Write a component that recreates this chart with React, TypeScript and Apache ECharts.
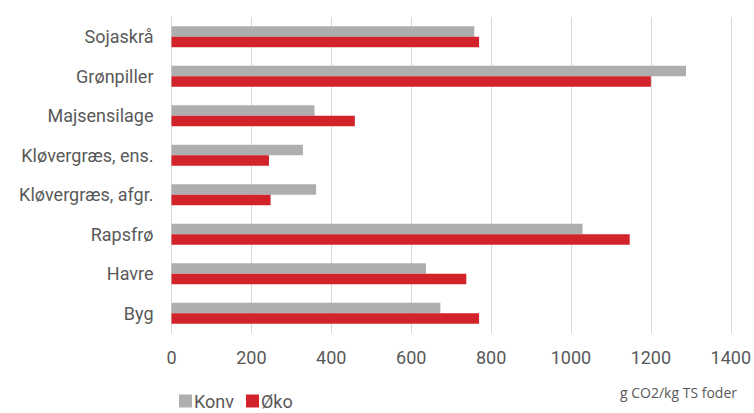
import React, { useEffect, useRef } from "react";
import * as echarts from "echarts";

const categories = ["Sojaskrå", "Grønpiller", "Majsensilage", "Kløvergræs, ens.", "Kløvergræs, afgr.", "Rapsfrø", "Havre", "Byg"];
const konv = [758, 1288, 358, 329, 362, 1029, 637, 673];
const oeko = [770, 1200, 459, 244, 248, 1147, 738, 770];
const xTicks = [0, 200, 400, 600, 800, 1000, 1200, 1400];
const axisTitle = "g CO2/kg TS foder";

export default function App() {
  const ref = useRef<HTMLDivElement>(null);
  useEffect(() => {
    const chart = echarts.init(ref.current!, null, { renderer: "svg" });
    const font = "Roboto, 'Liberation Sans', sans-serif";
    chart.setOption({
      animation: false,
      backgroundColor: "#ffffff",
      textStyle: { fontFamily: font },
      grid: { left: 171.5, right: 21, top: 17, bottom: 80, containLabel: false },
      legend: {
        left: 174,
        bottom: -2,
        itemWidth: 13,
        itemHeight: 13,
        itemGap: 12,
        icon: "rect",
        textStyle: { fontSize: 18, color: "#595959", fontFamily: font, padding: [0, 0, 0, -3] },
        data: ["Konv", "Øko"],
      },
      xAxis: {
        type: "value",
        min: xTicks[0],
        max: xTicks[xTicks.length - 1],
        interval: 200,
        axisLine: { show: false },
        axisTick: { show: false },
        splitLine: { lineStyle: { color: "#d9d9d9", width: 1 } },
        axisLabel: { fontSize: 18, color: "#595959", margin: 15, fontFamily: font, formatter: (v: number) => String(v) },
      },
      yAxis: {
        type: "category",
        data: categories,
        inverse: true,
        axisLine: { show: true, lineStyle: { color: "#d9d9d9" } },
        axisTick: { show: false },
        axisLabel: { fontSize: 18, color: "#595959", margin: 18, fontFamily: font },
      },
      graphic: [
        {
          type: "text",
          right: 17,
          top: 385,
          style: { text: axisTitle, fontSize: 14, fill: "#595959", fontFamily: "'Open Sans', sans-serif" },
        },
      ],
      series: [
        {
          name: "Konv",
          type: "bar",
          data: konv,
          itemStyle: { color: "#ADAEB0" },
          barWidth: 10.5,
          barGap: "0%",
        },
        {
          name: "Øko",
          type: "bar",
          data: oeko,
          itemStyle: { color: "#D2232A" },
          barWidth: 10.5,
          barGap: "0%",
        },
      ],
    });
    return () => chart.dispose();
  }, []);
  return <div ref={ref} style={{ width: 754, height: 413, position: "absolute", left: 0, top: 0 }} />;
}
